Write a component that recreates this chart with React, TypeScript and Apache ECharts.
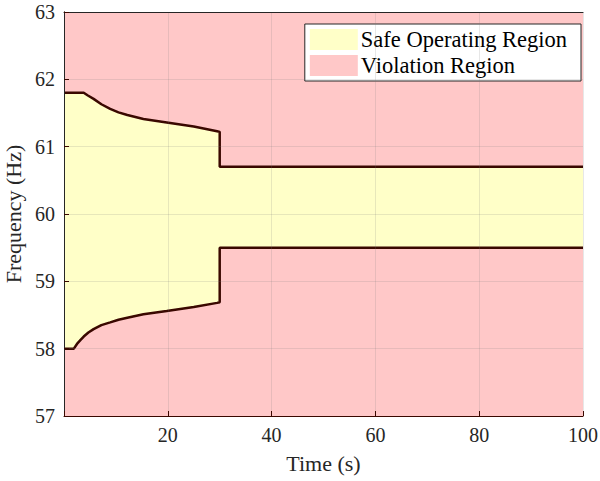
import React, { useEffect, useRef } from "react";
import * as echarts from "echarts";

const upperT = [0, 3.8, 4.6, 5.7, 7.2, 8.9, 10.5, 12.2, 15.3, 19.8, 25, 29.5, 30, 30, 100];
const upperF = [61.8, 61.8, 61.76, 61.71, 61.63, 61.56, 61.51, 61.47, 61.41, 61.36, 61.3, 61.23, 61.22, 60.7, 60.7];
const lowerT = [0, 1.9, 2.5, 3.2, 3.8, 4.7, 5.7, 7.2, 8.9, 10.5, 12.2, 15.3, 19.8, 25, 29.5, 30, 30, 100];
const lowerF = [58.0, 58.0, 58.07, 58.13, 58.18, 58.24, 58.29, 58.35, 58.39, 58.43, 58.46, 58.51, 58.56, 58.62, 58.68, 58.69, 59.5, 59.5];
const xTicks = [20, 40, 60, 80, 100];
const yTicks = [57, 58, 59, 60, 61, 62, 63];

const PINK = "#FFC8C8";
const YELLOW = "#FFFFC8";
const EDGE = "#3a0800";
const FONT = "Liberation Serif";

export default function App() {
  const ref = useRef<HTMLDivElement>(null);
  useEffect(() => {
    const chart = echarts.init(ref.current!, null, { renderer: "svg" });
    const upper = upperT.map((t, i) => [t, upperF[i]]);
    const lower = lowerT.map((t, i) => [t, lowerF[i]]);
    chart.setOption({
      animation: false,
      backgroundColor: "#ffffff",
      grid: {
        left: 64,
        right: 17,
        top: 12,
        bottom: 65,
        containLabel: false,
        outerBoundsMode: "none",
        show: true,
        backgroundColor: PINK,
        borderWidth: 0,
      },
      legend: {
        right: 19,
        top: 24,
        orient: "vertical",
        icon: "rect",
        itemWidth: 48,
        itemHeight: 21,
        itemGap: 3,
        padding: [4, 14, 4, 5],
        backgroundColor: "#ffffff",
        borderColor: "#262626",
        borderWidth: 1,
        borderRadius: 0,
        textStyle: { fontFamily: FONT, fontSize: 22.5, color: "#000", padding: [0, 0, 0, -2] },
        data: [
          { name: "Safe Operating Region", itemStyle: { color: YELLOW, borderWidth: 0 } },
          { name: "Violation Region", itemStyle: { color: PINK, borderWidth: 0 } },
        ],
      },
      xAxis: [
        {
          type: "value",
          min: 0,
          max: 100,
          interval: 20,
          z: 10,
          name: "Time (s)",
          nameLocation: "middle",
          nameGap: 36,
          nameTextStyle: { fontFamily: FONT, fontSize: 22, color: "#262626" },
          axisLine: { show: true, lineStyle: { color: EDGE, width: 1 } },
          axisTick: { show: true, inside: true, length: 5, lineStyle: { color: EDGE } },
          axisLabel: {
            fontFamily: FONT,
            fontSize: 20,
            color: "#262626",
            margin: 9,
            formatter: (v: number) => (xTicks.includes(v) ? String(v) : ""),
          },
          splitLine: { show: true, lineStyle: { color: "rgba(120,120,120,0.18)", width: 1 } },
        },
        {
          type: "value",
          position: "top",
          min: 0,
          max: 100,
          z: 10,
          axisLine: { show: true, lineStyle: { color: "#262626", width: 1 } },
          axisTick: { show: false },
          axisLabel: { show: false },
          splitLine: { show: false },
        },
      ],
      yAxis: [
        {
          type: "value",
          min: 57,
          max: 63,
          interval: 1,
          z: 10,
          name: "Frequency (Hz)",
          nameLocation: "middle",
          nameGap: 35,
          nameTextStyle: { fontFamily: FONT, fontSize: 22, color: "#262626" },
          axisLine: { show: true, lineStyle: { color: EDGE, width: 1 } },
          axisTick: { show: true, inside: true, length: 5, lineStyle: { color: EDGE } },
          axisLabel: {
            fontFamily: FONT,
            fontSize: 20,
            color: "#262626",
            margin: 9,
            formatter: (v: number) => (yTicks.includes(v) ? String(v) : ""),
          },
          splitLine: { show: true, lineStyle: { color: "rgba(120,120,120,0.18)", width: 1 } },
        },
        {
          type: "value",
          position: "right",
          min: 57,
          max: 63,
          z: 10,
          axisLine: { show: true, lineStyle: { color: "#262626", width: 1 } },
          axisTick: { show: false },
          axisLabel: { show: false },
          splitLine: { show: false },
        },
      ],
      series: [
        {
          name: "Safe Operating Region",
          type: "line",
          data: upper,
          symbol: "none",
          z: 2,
          lineStyle: { color: EDGE, width: 2.5 },
          itemStyle: { color: YELLOW },
          areaStyle: { color: YELLOW, opacity: 1, origin: "start" },
        },
        {
          name: "Violation Region",
          type: "line",
          data: lower,
          symbol: "none",
          z: 3,
          lineStyle: { color: EDGE, width: 2.5 },
          itemStyle: { color: PINK },
          areaStyle: { color: PINK, opacity: 1, origin: "start" },
        },
      ],
    });
    return () => chart.dispose();
  }, []);
  return (
    <div
      ref={ref}
      style={{ position: "fixed", left: 0, top: 0, width: 600, height: 481 }}
    />
  );
}
